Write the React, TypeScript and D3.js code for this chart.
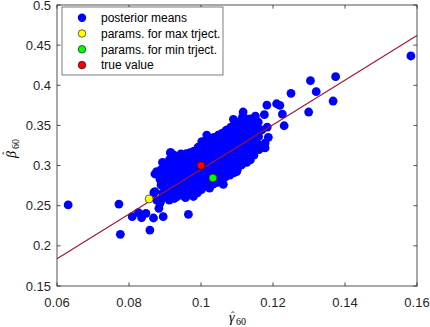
import React from "react";
import * as d3 from "d3";

// posterior means [gamma_60, beta_60]
const posteriorMeans: [number, number][] = [
  // outliers
  [0.0631, 0.251], [0.0772, 0.252], [0.0776, 0.2144], [0.0809, 0.2363],
  [0.0826, 0.2413], [0.0835, 0.235], [0.0847, 0.2405], [0.0858, 0.2197],
  [0.0868, 0.2347], [0.0869, 0.2662], [0.0872, 0.2895], [0.0877, 0.2924],
  [0.0886, 0.2829], [0.0889, 0.2758], [0.0883, 0.2468], [0.0886, 0.253],
  [0.0895, 0.2363], [0.0877, 0.257], [0.0965, 0.2393], [0.0872, 0.2675],
  [0.0891, 0.2592],
  [0.1583, 0.4365], [0.1374, 0.4107], [0.1304, 0.4057], [0.132, 0.392],
  [0.1367, 0.3804], [0.125, 0.39], [0.1299, 0.3667], [0.1183, 0.3754],
  [0.121, 0.377], [0.1219, 0.375], [0.1226, 0.3642], [0.1231, 0.3496],
  [0.1176, 0.3634], [0.1151, 0.3617], [0.1147, 0.3526], [0.1117, 0.3667],
  [0.109, 0.3576], [0.1113, 0.3559], [0.1131, 0.3526], [0.1178, 0.328],
  [0.1187, 0.3352], [0.1184, 0.348], [0.1148, 0.3434], [0.1169, 0.3443],
  [0.1083, 0.348], [0.1067, 0.342], [0.1048, 0.338], [0.1127, 0.304],
  [0.1062, 0.2767], [0.1099, 0.2924], [0.108, 0.2882], [0.1148, 0.3194],
  [0.1178, 0.322], [0.1033, 0.332], [0.0916, 0.316], [0.0944, 0.3144],
  [0.0923, 0.3027], [0.0979, 0.3173], [0.1002, 0.3297], [0.1016, 0.338],
  // dense core
  [0.0893, 0.304], [0.0889, 0.295], [0.0895, 0.286], [0.089, 0.277], [0.0894, 0.266], [0.0888, 0.256],
  [0.0915, 0.316], [0.0912, 0.307], [0.0917, 0.299], [0.0911, 0.29], [0.0916, 0.281], [0.0913, 0.272], [0.0918, 0.264], [0.0912, 0.257],
  [0.0935, 0.311], [0.0938, 0.302], [0.0933, 0.294], [0.0939, 0.286], [0.0934, 0.278], [0.0937, 0.269], [0.0932, 0.261],
  [0.0959, 0.315], [0.0955, 0.307], [0.0961, 0.299], [0.0956, 0.291], [0.096, 0.283], [0.0954, 0.275], [0.0959, 0.267], [0.0957, 0.26],
  [0.0981, 0.318], [0.0978, 0.31], [0.0983, 0.302], [0.0979, 0.294], [0.0982, 0.286], [0.0977, 0.278], [0.0981, 0.27], [0.0979, 0.2615],
  [0.1004, 0.329], [0.1001, 0.321], [0.1006, 0.312], [0.1002, 0.304], [0.1005, 0.295], [0.1, 0.287], [0.1004, 0.278], [0.1001, 0.27],
  [0.1026, 0.334], [0.1023, 0.326], [0.1027, 0.317], [0.1024, 0.309], [0.1028, 0.3], [0.1022, 0.292], [0.1026, 0.283], [0.1024, 0.272],
  [0.1048, 0.3365], [0.1045, 0.329], [0.1049, 0.321], [0.1046, 0.313], [0.105, 0.305], [0.1044, 0.297], [0.1048, 0.288], [0.1046, 0.279],
  [0.107, 0.344], [0.1067, 0.336], [0.1071, 0.328], [0.1068, 0.32], [0.1072, 0.312], [0.1066, 0.304], [0.107, 0.295], [0.1068, 0.286],
  [0.1093, 0.349], [0.109, 0.341], [0.1094, 0.333], [0.1091, 0.325], [0.1095, 0.316], [0.1089, 0.308], [0.1093, 0.299], [0.1091, 0.291],
  [0.1115, 0.36], [0.1112, 0.352], [0.1116, 0.344], [0.1113, 0.335], [0.1117, 0.327], [0.1111, 0.319], [0.1115, 0.31], [0.1113, 0.301],
  [0.1137, 0.358], [0.1134, 0.35], [0.1138, 0.341], [0.1135, 0.333], [0.1139, 0.324], [0.1133, 0.315], [0.1137, 0.307],
  [0.1159, 0.354], [0.1156, 0.345], [0.116, 0.336], [0.1157, 0.327], [0.1161, 0.32],
  // in-between points of the core
  [0.0902, 0.3], [0.0903, 0.291], [0.0901, 0.281], [0.0904, 0.27], [0.0902, 0.261],
  [0.0925, 0.313], [0.0926, 0.303], [0.0924, 0.294], [0.0927, 0.285], [0.0925, 0.276], [0.0923, 0.267], [0.0926, 0.259],
  [0.0947, 0.313], [0.0946, 0.304], [0.0948, 0.296], [0.0946, 0.288], [0.0949, 0.279], [0.0945, 0.271], [0.0948, 0.263],
  [0.097, 0.316], [0.0969, 0.307], [0.0971, 0.298], [0.0968, 0.29], [0.0972, 0.281], [0.0969, 0.272], [0.0971, 0.264],
  [0.0992, 0.323], [0.0991, 0.314], [0.0993, 0.306], [0.099, 0.298], [0.0994, 0.29], [0.0991, 0.282], [0.0993, 0.274], [0.099, 0.266],
  [0.1014, 0.331], [0.1013, 0.324], [0.1015, 0.316], [0.1012, 0.307], [0.1016, 0.298], [0.1013, 0.29], [0.1015, 0.281], [0.1012, 0.274],
  [0.1036, 0.335], [0.1035, 0.327], [0.1037, 0.319], [0.1034, 0.311], [0.1038, 0.303], [0.1035, 0.294], [0.1037, 0.286], [0.1034, 0.277],
  [0.1058, 0.34], [0.1057, 0.332], [0.1059, 0.324], [0.1056, 0.316], [0.106, 0.308], [0.1057, 0.3], [0.1059, 0.291], [0.1056, 0.283],
  [0.108, 0.346], [0.1079, 0.338], [0.1081, 0.33], [0.1078, 0.322], [0.1082, 0.314], [0.1079, 0.306], [0.1081, 0.297], [0.1078, 0.289],
  [0.1103, 0.354], [0.1102, 0.345], [0.1104, 0.337], [0.1101, 0.329], [0.1105, 0.32], [0.1102, 0.312], [0.1104, 0.303], [0.1101, 0.295],
  [0.1125, 0.358], [0.1124, 0.349], [0.1126, 0.34], [0.1123, 0.331], [0.1127, 0.322], [0.1124, 0.313], [0.1126, 0.305],
  [0.1148, 0.356], [0.1147, 0.347], [0.1149, 0.338], [0.1146, 0.329], [0.115, 0.321], [0.1147, 0.313],
];

const maxTraj: [number, number] = [0.0856, 0.2584];
const minTraj: [number, number] = [0.1033, 0.2845];
const trueValue: [number, number] = [0.1, 0.3];

// fitted line end points
const fitX = [0.06, 0.16];
const fitY = [0.184, 0.462];

const xTicks = [0.06, 0.08, 0.1, 0.12, 0.14, 0.16];
const yTicks = [0.15, 0.2, 0.25, 0.3, 0.35, 0.4, 0.45, 0.5];

const legendItems = [
  { label: "posterior means", color: "#0000ff", edge: false },
  { label: "params. for max trject.", color: "#ffff00", edge: true },
  { label: "params. for min trject.", color: "#00ff00", edge: true },
  { label: "true value", color: "#ff0000", edge: true },
];

const W = 430;
const H = 327;
const left = 57, right = 417, top = 5, bottom = 286;
const axisColor = "#262626";
const font = "'Liberation Sans', Arial, Helvetica, sans-serif";
const serif = "'Liberation Serif', 'DejaVu Serif', serif";

export default function App() {
  const x = d3.scaleLinear().domain([0.06, 0.16]).range([left, right]);
  const y = d3.scaleLinear().domain([0.15, 0.5]).range([bottom, top]);

  const line = d3
    .line<number>()
    .x((d) => x(d))
    .y((_, i) => y(fitY[i]));

  const tl = 3.6;
  const fmt = (v: number) => String(+v.toFixed(2));

  return (
    <svg
      width={W}
      height={H}
      style={{ position: "absolute", left: 0, top: 0, background: "#fff" }}
    >
      <rect x={0} y={0} width={W} height={H} fill="#fff" />
      {/* points */}
      <g>
        {posteriorMeans.map((d, i) => (
          <circle key={i} cx={x(d[0])} cy={y(d[1])} r={4.4} fill="#0000ff" />
        ))}
      </g>
      <path
        d={line(fitX) || ""}
        fill="none"
        stroke="#a2142f"
        strokeWidth={1.1}
      />
      {[
        { p: maxTraj, c: "#ffff00" },
        { p: minTraj, c: "#00ff00" },
        { p: trueValue, c: "#ff0000" },
      ].map((s, i) => (
        <circle
          key={i}
          cx={x(s.p[0])}
          cy={y(s.p[1])}
          r={4}
          fill={s.c}
          stroke="#000"
          strokeWidth={0.6}
        />
      ))}

      {/* axes box and ticks */}
      <rect
        x={left}
        y={top}
        width={right - left}
        height={bottom - top}
        fill="none"
        stroke={axisColor}
        strokeWidth={0.8}
      />
      {xTicks.map((t) => (
        <g key={"x" + t}>
          <line x1={x(t)} x2={x(t)} y1={bottom} y2={bottom - tl} stroke={axisColor} strokeWidth={0.8} />
          <line x1={x(t)} x2={x(t)} y1={top} y2={top + tl} stroke={axisColor} strokeWidth={0.8} />
          <text
            x={x(t)}
            y={bottom + 21}
            textAnchor="middle"
            fontFamily={font}
            fontSize={13}
            fill={axisColor}
          >
            {fmt(t)}
          </text>
        </g>
      ))}
      {yTicks.map((t) => (
        <g key={"y" + t}>
          <line x1={left} x2={left + tl} y1={y(t)} y2={y(t)} stroke={axisColor} strokeWidth={0.8} />
          <line x1={right} x2={right - tl} y1={y(t)} y2={y(t)} stroke={axisColor} strokeWidth={0.8} />
          <text
            x={left - 6}
            y={y(t) + 4.5}
            textAnchor="end"
            fontFamily={font}
            fontSize={13}
            fill={axisColor}
          >
            {fmt(t)}
          </text>
        </g>
      ))}

      {/* x label */}
      <g transform={`translate(${(left + right) / 2},322)`} fontFamily={serif} fill="#000">
        <text x={-8} y={0} fontSize={14} fontStyle="italic">γ</text>
        <text x={-6} y={-3.5} fontSize={10}>ˆ</text>
        <text x={-1} y={3} fontSize={10}>60</text>
      </g>
      {/* y label */}
      <g transform="translate(16,146) rotate(-90)" fontFamily={serif} fill="#000">
        <text x={-12} y={0} fontSize={14} fontStyle="italic">β</text>
        <text x={-9} y={-6} fontSize={10}>ˆ</text>
        <text x={-3} y={3} fontSize={10}>60</text>
      </g>

      {/* legend */}
      <g>
        <rect x={62} y={7} width={161} height={68} fill="#fff" stroke={axisColor} strokeWidth={0.6} />
        {legendItems.map((it, i) => (
          <g key={it.label} transform={`translate(0,${17.7 + i * 15.8})`}>
            <circle
              cx={82}
              cy={0}
              r={it.edge ? 3.8 : 4.2}
              fill={it.color}
              stroke={it.edge ? "#000" : "none"}
              strokeWidth={0.6}
            />
            <text x={101} y={4.3} fontFamily={font} fontSize={12} fill="#000">
              {it.label}
            </text>
          </g>
        ))}
      </g>
    </svg>
  );
}
